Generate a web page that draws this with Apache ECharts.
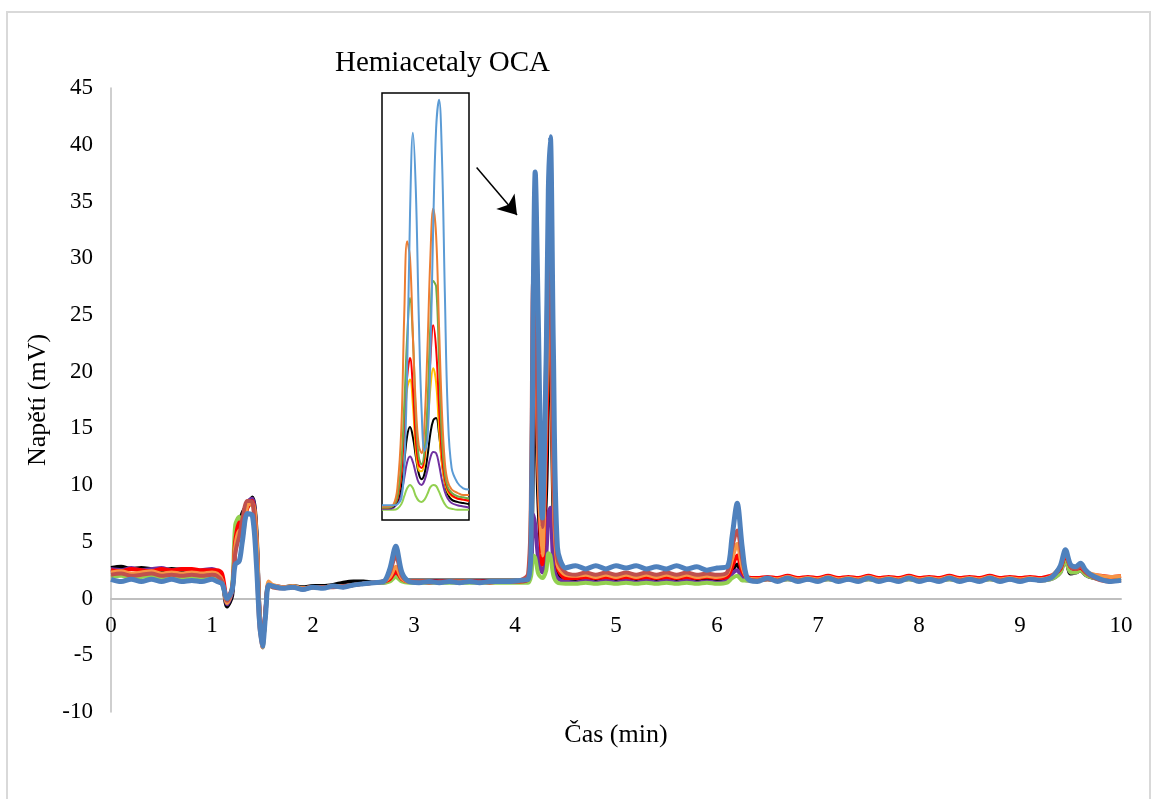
<!DOCTYPE html>
<html>
<head>
<meta charset="utf-8">
<script src="https://cdn.jsdelivr.net/npm/echarts@6/dist/echarts.min.js"></script>
<style>
  html, body { margin: 0; padding: 0; background: #fff; }
  #chart { width: 1157px; height: 799px; }
</style>
</head>
<body>
<div id="chart"></div>
<script>
// cas (min) - spolecna osa pro hlavni graf
var times = [
  0, 0.1, 0.2, 0.3, 0.4, 0.5, 0.6, 0.7, 0.8, 0.9,
  1.0, 1.05, 1.1, 1.15, 1.2, 1.23, 1.27, 1.3, 1.35, 1.4,
  1.44, 1.47, 1.5, 1.53, 1.56, 1.6, 1.7, 1.8, 1.9, 2.0,
  2.1, 2.2, 2.3, 2.4, 2.5, 2.6, 2.7, 2.76, 2.82, 2.88,
  2.95, 3.05, 3.15, 3.25, 3.35, 3.45, 3.55, 3.65, 3.75, 3.85,
  3.95, 4.05, 4.13, 4.16, 4.18, 4.2, 4.23, 4.27, 4.31, 4.33,
  4.35, 4.38, 4.42, 4.5, 4.6, 4.7, 4.8, 4.9, 5.0, 5.1,
  5.2, 5.3, 5.4, 5.5, 5.6, 5.7, 5.8, 5.9, 6.0, 6.1,
  6.15, 6.2, 6.25, 6.3, 6.4, 6.5, 6.6, 6.7, 6.8, 6.9,
  7.0, 7.1, 7.2, 7.3, 7.4, 7.5, 7.6, 7.7, 7.8, 7.9,
  8.0, 8.1, 8.2, 8.3, 8.4, 8.5, 8.6, 8.7, 8.8, 8.9,
  9.0, 9.1, 9.2, 9.3, 9.35, 9.4, 9.45, 9.5, 9.55, 9.6,
  9.65, 9.7, 9.8, 9.9, 10.0
];

var blackVals = [
  2.7, 2.8, 2.6, 2.7, 2.6, 2.5, 2.6, 2.5, 2.4, 2.4,
  2.4, 2.2, 1.6, -0.7, 0.3, 4.5, 6.5, 7.5, 8.3, 8.9,
  6.0, -1.0, -4.0, -1.5, 1.2, 1.1, 1.0, 1.1, 1.0, 1.1,
  1.1, 1.2, 1.4, 1.5, 1.5, 1.4, 1.5, 1.6, 2.0, 1.6,
  1.6, 1.6, 1.6, 1.6, 1.6, 1.6, 1.6, 1.6, 1.6, 1.6,
  1.6, 1.6, 1.6, 3.0, 14.0, 20.0, 9.0, 3.2, 10.0, 20.0,
  24.0, 8.0, 2.2, 1.6, 1.5, 1.7, 1.5, 1.7, 1.5, 1.7,
  1.5, 1.7, 1.5, 1.7, 1.5, 1.7, 1.5, 1.6, 1.5, 1.7,
  2.5, 3.0, 2.0, 1.7, 1.7, 1.8, 1.7, 1.8, 1.7, 1.8,
  1.7, 1.8, 1.7, 1.8, 1.7, 1.8, 1.7, 1.8, 1.7, 1.8,
  1.7, 1.8, 1.7, 1.8, 1.7, 1.8, 1.7, 1.8, 1.7, 1.8,
  1.7, 1.8, 1.7, 1.8, 2.0, 2.4, 3.6, 2.2, 2.3, 2.5,
  2.1, 1.9, 1.8, 1.7, 1.8
];
var purpleVals = [
  2.6, 2.5, 2.7, 2.5, 2.6, 2.7, 2.5, 2.6, 2.4, 2.5,
  2.6, 2.4, 1.7, -0.5, 0.6, 4.0, 6.0, 6.0, 8.5, 8.8,
  5.5, -1.0, -4.3, -1.0, 1.2, 1.1, 1.0, 1.0, 0.9, 1.0,
  1.0, 1.1, 1.1, 1.2, 1.3, 1.4, 1.4, 1.6, 2.2, 1.6,
  1.5, 1.5, 1.5, 1.5, 1.5, 1.5, 1.5, 1.5, 1.5, 1.5,
  1.5, 1.5, 1.6, 2.5, 7.4, 6.5, 3.5, 2.3, 4.0, 7.5,
  8.0, 3.0, 1.8, 1.5, 1.4, 1.6, 1.4, 1.6, 1.4, 1.6,
  1.4, 1.6, 1.4, 1.6, 1.4, 1.6, 1.4, 1.5, 1.4, 1.6,
  2.2, 2.5, 1.8, 1.6, 1.6, 1.7, 1.6, 1.7, 1.6, 1.7,
  1.6, 1.7, 1.6, 1.7, 1.6, 1.7, 1.6, 1.7, 1.6, 1.7,
  1.6, 1.7, 1.6, 1.7, 1.6, 1.7, 1.6, 1.7, 1.6, 1.7,
  1.6, 1.7, 1.6, 1.7, 1.9, 2.3, 3.4, 2.3, 2.3, 2.5,
  2.1, 1.9, 1.7, 1.6, 1.7
];
var lightGreenVals = [
  1.9, 2.0, 1.8, 1.9, 2.0, 1.8, 1.9, 1.8, 1.9, 1.9,
  1.9, 1.8, 1.3, -0.3, 1.2, 6.5, 7.2, 6.5, 8.0, 8.5,
  5.0, -1.5, -4.3, -1.2, 1.2, 1.0, 1.0, 1.0, 0.9, 1.0,
  1.0, 1.1, 1.1, 1.2, 1.3, 1.4, 1.4, 1.5, 1.9, 1.5,
  1.4, 1.4, 1.4, 1.4, 1.4, 1.4, 1.4, 1.4, 1.4, 1.4,
  1.4, 1.4, 1.4, 2.0, 3.8, 3.6, 2.2, 1.8, 2.5, 4.0,
  3.8, 2.0, 1.4, 1.3, 1.3, 1.4, 1.3, 1.4, 1.3, 1.4,
  1.3, 1.4, 1.3, 1.4, 1.3, 1.4, 1.3, 1.4, 1.3, 1.4,
  1.8, 2.0, 1.6, 1.6, 1.6, 1.7, 1.6, 1.7, 1.6, 1.7,
  1.6, 1.7, 1.6, 1.7, 1.6, 1.7, 1.6, 1.7, 1.6, 1.7,
  1.6, 1.7, 1.6, 1.7, 1.6, 1.7, 1.6, 1.7, 1.6, 1.7,
  1.6, 1.7, 1.6, 1.7, 1.9, 2.3, 3.4, 2.3, 2.3, 2.5,
  2.1, 1.9, 1.7, 1.6, 1.7
];
var redVals = [
  2.5, 2.4, 2.6, 2.5, 2.4, 2.6, 2.5, 2.6, 2.6, 2.5,
  2.5, 2.5, 2.2, 0.0, 1.0, 5.0, 6.7, 6.0, 8.0, 8.6,
  5.0, -1.5, -3.8, -1.0, 1.3, 1.1, 1.0, 1.0, 0.9, 1.0,
  1.0, 1.1, 1.0, 1.2, 1.3, 1.4, 1.5, 1.7, 2.4, 1.7,
  1.5, 1.5, 1.5, 1.5, 1.5, 1.5, 1.5, 1.5, 1.5, 1.5,
  1.5, 1.5, 1.7, 5.0, 20.0, 25.0, 12.0, 3.0, 14.0, 25.0,
  27.0, 11.0, 2.8, 1.8, 1.8, 1.9, 1.8, 1.9, 1.8, 1.9,
  1.8, 1.9, 1.8, 1.9, 1.8, 1.9, 1.8, 1.9, 1.8, 1.9,
  2.8, 3.8, 2.4, 1.9, 1.8, 1.9, 1.8, 2.0, 1.8, 1.9,
  1.8, 2.0, 1.8, 1.9, 1.8, 2.0, 1.8, 1.9, 1.8, 2.0,
  1.8, 1.9, 1.8, 2.0, 1.8, 1.9, 1.8, 2.0, 1.8, 1.9,
  1.8, 1.9, 1.8, 2.0, 2.2, 2.6, 3.8, 2.8, 2.6, 2.7,
  2.3, 2.1, 2.0, 1.9, 2.0
];
var orangeVals = [
  2.3, 2.4, 2.2, 2.3, 2.4, 2.2, 2.3, 2.2, 2.3, 2.2,
  2.3, 2.2, 1.6, -0.4, 0.8, 4.5, 6.0, 5.5, 8.2, 8.4,
  5.5, -1.0, -4.3, -1.2, 1.5, 1.2, 1.0, 1.1, 0.9, 1.0,
  1.0, 1.1, 1.1, 1.2, 1.3, 1.4, 1.5, 1.9, 2.8, 1.8,
  1.5, 1.5, 1.5, 1.4, 1.5, 1.5, 1.5, 1.4, 1.5, 1.5,
  1.5, 1.6, 1.8, 9.0, 24.0, 25.0, 12.0, 3.8, 18.0, 28.0,
  26.0, 10.0, 3.0, 2.1, 2.0, 2.1, 1.9, 2.1, 1.9, 2.1,
  1.9, 2.1, 1.9, 2.1, 1.9, 2.1, 1.9, 2.0, 1.9, 2.2,
  3.5, 4.8, 2.8, 1.8, 1.7, 1.8, 1.7, 1.9, 1.7, 1.8,
  1.7, 1.9, 1.7, 1.8, 1.7, 1.9, 1.7, 1.8, 1.7, 1.9,
  1.7, 1.8, 1.7, 1.9, 1.7, 1.8, 1.7, 1.9, 1.7, 1.8,
  1.7, 1.8, 1.7, 1.9, 2.3, 2.8, 4.0, 2.9, 2.7, 2.9,
  2.4, 2.2, 2.0, 1.9, 2.0
];
var brownVals = [
  2.1, 2.2, 2.0, 2.1, 2.2, 2.0, 2.1, 2.0, 2.1, 2.0,
  2.1, 2.0, 1.5, -0.2, 0.8, 4.0, 5.5, 7.0, 8.6, 8.5,
  3.5, -2.5, -4.0, -1.0, 1.2, 1.0, 0.9, 1.0, 0.8, 1.0,
  1.0, 1.0, 1.1, 1.2, 1.3, 1.4, 1.5, 2.3, 3.8, 2.0,
  1.5, 1.5, 1.4, 1.5, 1.5, 1.4, 1.5, 1.5, 1.4, 1.5,
  1.5, 1.6, 2.2, 11.0, 27.9, 27.0, 14.0, 6.3, 22.0, 30.3,
  28.0, 12.0, 3.5, 2.3, 2.1, 2.3, 2.1, 2.3, 2.1, 2.3,
  2.1, 2.3, 2.1, 2.3, 2.1, 2.3, 2.1, 2.2, 2.1, 2.3,
  4.5, 6.0, 3.5, 1.8, 1.6, 1.7, 1.6, 1.8, 1.6, 1.7,
  1.6, 1.8, 1.6, 1.7, 1.6, 1.8, 1.6, 1.7, 1.6, 1.8,
  1.6, 1.7, 1.6, 1.8, 1.6, 1.7, 1.6, 1.8, 1.6, 1.7,
  1.6, 1.7, 1.6, 1.8, 2.2, 2.8, 4.0, 2.8, 2.6, 2.8,
  2.3, 2.0, 1.6, 1.5, 1.6
];
var blueVals = [
  1.7, 1.5, 1.7, 1.5, 1.7, 1.5, 1.7, 1.5, 1.6, 1.5,
  1.7, 1.5, 1.3, 0.0, 0.8, 3.0, 3.3, 5.0, 7.5, 7.3,
  3.0, -2.0, -4.2, -1.5, 1.2, 1.1, 0.9, 1.0, 0.8, 1.0,
  0.9, 1.1, 1.0, 1.2, 1.3, 1.4, 1.5, 2.6, 4.6, 2.3,
  1.5, 1.4, 1.5, 1.4, 1.5, 1.4, 1.5, 1.4, 1.5, 1.5,
  1.5, 1.6, 1.7, 5.0, 26.0, 37.6, 25.0, 7.1, 22.0, 36.0,
  40.7, 22.0, 4.5, 2.7, 2.9, 2.6, 2.9, 2.6, 2.9, 2.7,
  2.9, 2.6, 2.8, 2.6, 2.9, 2.6, 2.8, 2.5, 2.7, 2.8,
  5.5, 8.4, 4.5, 1.8, 1.5, 1.8, 1.5, 1.8, 1.5, 1.7,
  1.5, 1.8, 1.5, 1.7, 1.5, 1.8, 1.5, 1.7, 1.5, 1.8,
  1.5, 1.7, 1.5, 1.8, 1.5, 1.7, 1.5, 1.8, 1.5, 1.7,
  1.5, 1.7, 1.6, 1.8, 2.2, 2.9, 4.3, 3.0, 2.8, 3.1,
  2.5, 2.1, 1.7, 1.5, 1.6
];

// vyrez (inset) - detail hemiacetalu
var insetTimes = [
  4.04, 4.07, 4.10, 4.12, 4.14, 4.155, 4.17, 4.185, 4.2, 4.215,
  4.23, 4.245, 4.26, 4.275, 4.29, 4.305, 4.32, 4.335, 4.35, 4.365,
  4.38, 4.4, 4.43, 4.46, 4.49
];
var inLightGreen = [7.8, 7.8, 7.8, 7.9, 8.3, 9.0, 9.7, 10.0, 9.7, 9.0, 8.6, 8.5, 8.7, 9.2, 9.8, 10.0, 9.9, 9.4, 8.8, 8.3, 8.0, 7.9, 7.8, 7.8, 7.8];
var inPurple = [7.9, 7.9, 8.0, 8.4, 9.3, 10.6, 12.0, 12.5, 12.0, 11.0, 10.2, 10.0, 10.4, 11.3, 12.4, 12.9, 12.8, 11.8, 10.4, 9.4, 8.8, 8.4, 8.2, 8.1, 8.0];
var inBlack = [8.0, 8.0, 8.1, 8.6, 10.0, 12.0, 14.3, 15.1, 14.2, 12.5, 11.0, 10.5, 11.0, 12.5, 14.5, 15.7, 15.9, 14.5, 12.0, 10.2, 9.2, 8.7, 8.5, 8.4, 8.3];
var inYellow = [8.0, 8.0, 8.2, 8.8, 11.0, 14.5, 18.5, 19.3, 17.0, 13.0, 11.3, 11.2, 12.0, 15.0, 18.5, 20.3, 19.0, 15.0, 11.8, 10.2, 9.4, 9.0, 8.8, 8.7, 8.6];
var inRed = [8.0, 8.0, 8.2, 8.8, 11.0, 15.0, 19.5, 21.2, 18.5, 14.0, 11.8, 11.5, 12.5, 16.0, 21.0, 24.1, 22.0, 17.0, 12.5, 10.5, 9.6, 9.1, 8.8, 8.7, 8.6];
var inGreen = [8.0, 8.0, 8.2, 9.0, 12.0, 17.0, 23.0, 26.5, 23.0, 16.0, 12.5, 11.8, 13.0, 17.0, 24.0, 28.0, 27.5, 21.0, 14.0, 11.0, 9.8, 9.3, 9.0, 8.9, 8.8];
var inOrange = [8.1, 8.1, 8.3, 9.8, 15.0, 25.0, 31.5, 30.0, 23.0, 17.0, 13.5, 12.8, 15.5, 22.0, 30.0, 34.4, 32.0, 24.0, 16.5, 12.0, 10.3, 9.6, 9.3, 9.1, 9.1];
var inBlue = [8.2, 8.2, 8.2, 8.3, 8.8, 11.5, 20.0, 34.0, 41.1, 36.0, 25.0, 16.5, 13.0, 14.0, 21.0, 33.0, 41.5, 44.0, 39.0, 27.0, 16.5, 11.5, 10.2, 9.7, 9.6];

var fontFam = "'Liberation Serif', 'Times New Roman', serif";

function pairs(xs, ys) {
    var out = [];
    for (var i = 0; i < xs.length; i++)
        out.push([xs[i], ys[i]]);
    return out;
}

function mainLine(vals, color, width) {
    return {
        type: 'line', xAxisIndex: 0, yAxisIndex: 0,
        data: pairs(times, vals),
        showSymbol: false, smooth: 0.3,
        lineStyle: {color: color, width: width},
        itemStyle: {color: color},
        z: 3
    };
}

function insetLine(vals, color) {
    return {
        type: 'line', xAxisIndex: 1, yAxisIndex: 1,
        data: pairs(insetTimes, vals),
        showSymbol: false, smooth: 0.4,
        lineStyle: {color: color, width: 2},
        itemStyle: {color: color},
        z: 5
    };
}

var series = [
    mainLine(blackVals, '#000000', 4),
    mainLine(purpleVals, '#7030A0', 4),
    mainLine(lightGreenVals, '#92D050', 4),
    mainLine(redVals, '#FF0000', 4),
    mainLine(orangeVals, '#F79646', 4),
    mainLine(brownVals, '#C0504D', 4),
    mainLine(blueVals, '#4F81BD', 5),
    insetLine(inLightGreen, '#92D050'),
    insetLine(inPurple, '#7030A0'),
    insetLine(inBlack, '#000000'),
    insetLine(inYellow, '#FFC000'),
    insetLine(inRed, '#FF0000'),
    insetLine(inGreen, '#70AD47'),
    insetLine(inOrange, '#ED7D31'),
    insetLine(inBlue, '#5B9BD5')
];

// sipka z vyrezu na pik
series[0].markLine = {
    silent: true,
    symbol: ['none', 'arrow'],
    symbolSize: 18,
    label: {show: false},
    lineStyle: {color: '#000', width: 1.5, type: 'solid'},
    data: [[{coord: [3.62, 38.0]}, {coord: [4.02, 33.8]}]]
};

var option = {
    animation: false,
    backgroundColor: '#fff',
    title: {
        text: 'Hemiacetaly OCA',
        left: 330, top: 44,
        textStyle: {fontFamily: fontFam, fontSize: 29, fontWeight: 'normal', color: '#000'}
    },
    graphic: [{
        type: 'rect',
        shape: {x: 7, y: 12, width: 1143, height: 800},
        style: {fill: 'none', stroke: '#d9d9d9', lineWidth: 2},
        silent: true, z: -10
    }],
    grid: [
        {left: 111, right: 36, top: 88, bottom: 87, outerBoundsMode: 'none'},
        {left: 382, top: 93, width: 87, height: 427, show: true, outerBoundsMode: 'none',
         borderColor: '#000', borderWidth: 1.5, backgroundColor: '#fff', z: 4}
    ],
    xAxis: [{
        type: 'value', gridIndex: 0, min: 0, max: 10, interval: 1,
        // osa x lezi na nule: posun o 10/55 vysky gridu nahoru
        offset: -113.5,
        name: 'Čas (min)', nameLocation: 'middle', nameGap: 124,
        nameTextStyle: {fontFamily: fontFam, fontSize: 26, color: '#000'},
        axisLine: {onZero: false, lineStyle: {color: '#bfbfbf', width: 2}},
        axisTick: {show: false},
        splitLine: {show: false},
        axisLabel: {fontFamily: fontFam, fontSize: 23, color: '#000', margin: 16}
    }, {
        type: 'value', gridIndex: 1, min: 4.04, max: 4.49, show: false
    }],
    yAxis: [{
        type: 'value', gridIndex: 0, min: -10, max: 45, interval: 5,
        name: 'Napětí (mV)', nameLocation: 'middle', nameGap: 58,
        nameTextStyle: {fontFamily: fontFam, fontSize: 26, color: '#000'},
        axisLine: {show: true, onZero: false, lineStyle: {color: '#bfbfbf', width: 1.5}},
        axisTick: {show: false},
        splitLine: {show: false},
        axisLabel: {fontFamily: fontFam, fontSize: 23, color: '#000', margin: 18}
    }, {
        type: 'value', gridIndex: 1, min: 6.9, max: 44.6, show: false
    }],
    series: series
};

var chart = echarts.init(document.getElementById('chart'));
chart.setOption(option);
</script>
</body>
</html>
